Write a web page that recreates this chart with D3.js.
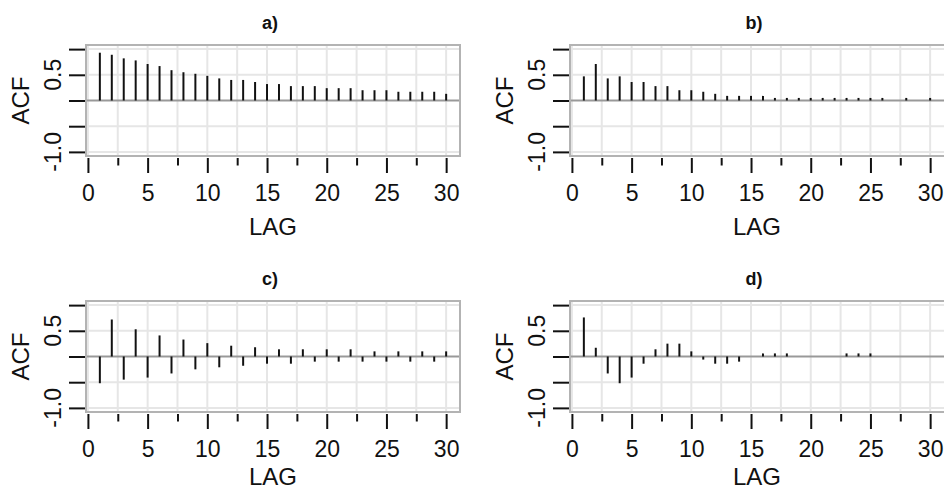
<!DOCTYPE html>
<html>
<head>
<meta charset="utf-8">
<script src="https://cdn.jsdelivr.net/npm/d3@7"></script>
<style>
  body { margin: 0; background: #fff; overflow: hidden; }
  svg { display: block; font-family: "Liberation Sans", Arial, sans-serif; }
</style>
</head>
<body>
<div id="chart"></div>
<script>
// data
var lags = [1, 2, 3, 4, 5, 6, 7, 8, 9, 10, 11, 12, 13, 14, 15,
            16, 17, 18, 19, 20, 21, 22, 23, 24, 25, 26, 27, 28, 29, 30];

var acfA = [0.93, 0.89, 0.82, 0.78, 0.71, 0.67, 0.59, 0.55, 0.52, 0.48,
            0.43, 0.40, 0.40, 0.36, 0.32, 0.32, 0.28, 0.28, 0.28, 0.24,
            0.24, 0.24, 0.20, 0.20, 0.20, 0.17, 0.17, 0.17, 0.17, 0.13];
var acfB = [0.47, 0.71, 0.43, 0.47, 0.36, 0.36, 0.28, 0.28, 0.20, 0.20,
            0.17, 0.13, 0.09, 0.09, 0.09, 0.09, 0.05, 0.05, 0.05, 0.05,
            0.05, 0.05, 0.05, 0.05, 0.05, 0.05, 0.00, 0.05, 0.00, 0.05];
var acfC = [-0.52, 0.72, -0.45, 0.53, -0.41, 0.41, -0.33, 0.33, -0.25, 0.26,
            -0.21, 0.21, -0.18, 0.18, -0.14, 0.14, -0.14, 0.14, -0.10, 0.14,
            -0.10, 0.14, -0.10, 0.10, -0.10, 0.10, -0.10, 0.10, -0.10, 0.10];
var acfD = [0.76, 0.17, -0.33, -0.52, -0.41, -0.14, 0.14, 0.25, 0.25, 0.10,
            -0.06, -0.14, -0.14, -0.10, 0.00, 0.06, 0.06, 0.06, 0.00, 0.00,
            0.00, 0.00, 0.06, 0.06, 0.06, 0.00, 0.00, 0.00, 0.00, 0.00];

var titles = ["a)", "b)", "c)", "d)"];
var xMajor = [0, 5, 10, 15, 20, 25, 30];
var xMinor = [2.5, 7.5, 12.5, 17.5, 22.5, 27.5];
var yTicks = [-1, -0.5, 0, 0.5, 1];
var yLabelled = [0.5, -1];
var yLabelText = ["0.5", "-1.0"];

var W = 944, H = 491;

var svg = d3.select("#chart").append("svg")
    .attr("width", W)
    .attr("height", H);

// plot boxes (panel b/d run off the right edge, like the picture)
var panels = [
  {x0: 86,  x1: 460, y0: 45,  y1: 156, data: acfA, title: titles[0]},
  {x0: 570, x1: 946, y0: 45,  y1: 156, data: acfB, title: titles[1]},
  {x0: 86,  x1: 460, y0: 301, y1: 412, data: acfC, title: titles[2]},
  {x0: 570, x1: 946, y0: 301, y1: 412, data: acfD, title: titles[3]}
];

panels.forEach(function(p) {
  var x = d3.scaleLinear().domain([-0.16, 31.16]).range([p.x0, p.x0 + 374]);
  var y = d3.scaleLinear().domain([-1.08, 1.08]).range([p.y1, p.y0]);
  var g = svg.append("g");

  // grid
  g.append("g").selectAll("line")
    .data(xMajor.concat(xMinor))
    .enter().append("line")
      .attr("x1", function(d) { return x(d); })
      .attr("x2", function(d) { return x(d); })
      .attr("y1", p.y0).attr("y2", p.y1)
      .attr("stroke", "#e6e6e6").attr("stroke-width", 2);
  g.append("g").selectAll("line")
    .data(yTicks.filter(function(d) { return d !== 0; }))
    .enter().append("line")
      .attr("x1", p.x0).attr("x2", p.x1)
      .attr("y1", function(d) { return y(d); })
      .attr("y2", function(d) { return y(d); })
      .attr("stroke", "#e6e6e6").attr("stroke-width", 2);

  // zero line
  g.append("line")
    .attr("x1", p.x0).attr("x2", p.x1)
    .attr("y1", y(0)).attr("y2", y(0))
    .attr("stroke", "#999").attr("stroke-width", 2);

  // box
  g.append("rect")
    .attr("x", p.x0).attr("y", p.y0)
    .attr("width", p.x1 - p.x0).attr("height", p.y1 - p.y0)
    .attr("fill", "none").attr("stroke", "#b3b3b3").attr("stroke-width", 2);

  // acf spikes
  g.append("g").selectAll("line")
    .data(lags.map(function(l, i) { return {lag: l, v: p.data[i]}; }))
    .enter().append("line")
      .attr("x1", function(d) { return x(d.lag); })
      .attr("x2", function(d) { return x(d.lag); })
      .attr("y1", y(0))
      .attr("y2", function(d) { return y(d.v); })
      .attr("stroke", "#111").attr("stroke-width", 2);

  // x axis: major ticks with labels, minor ticks without
  var ax = g.append("g")
      .attr("transform", "translate(0," + (p.y1 + 2) + ")")
      .call(d3.axisBottom(x).tickValues(xMajor).tickSize(15).tickPadding(12).tickFormat(d3.format("d")));
  var axm = g.append("g")
      .attr("transform", "translate(0," + (p.y1 + 2) + ")")
      .call(d3.axisBottom(x).tickValues(xMinor).tickSize(7.5).tickFormat(""));
  [ax, axm].forEach(function(a) {
    a.select(".domain").remove();
    a.selectAll(".tick line").attr("stroke", "#111").attr("stroke-width", 2);
  });
  ax.selectAll(".tick text")
    .attr("fill", "#111")
    .style("font-size", "23px")
    .style("font-family", "'Liberation Sans', Arial, sans-serif");

  // y axis ticks
  var ay = g.append("g")
      .attr("transform", "translate(" + (p.x0 - 1) + ",0)")
      .call(d3.axisLeft(y).tickValues(yTicks).tickSize(16).tickFormat(""));
  ay.select(".domain").remove();
  ay.selectAll(".tick line").attr("stroke", "#111").attr("stroke-width", 2);

  // rotated y tick labels
  g.append("g").selectAll("text")
    .data(yLabelled)
    .enter().append("text")
      .attr("transform", function(d) { return "translate(" + (p.x0 - 25) + "," + y(d) + ") rotate(-90)"; })
      .attr("text-anchor", "middle")
      .attr("fill", "#111")
      .style("font-size", "23px")
      .text(function(d, i) { return yLabelText[i]; });

  // axis titles
  var cx = (p.x0 + p.x0 + 374) / 2;
  g.append("text")
    .attr("transform", "translate(" + (p.x0 - 57) + "," + y(0) + ") rotate(-90)")
    .attr("text-anchor", "middle")
    .attr("fill", "#111")
    .style("font-size", "24px")
    .text("ACF");
  g.append("text")
    .attr("x", cx).attr("y", Math.min(p.y1 + 79, H - 6))
    .attr("text-anchor", "middle")
    .attr("fill", "#111")
    .style("font-size", "24px")
    .text("LAG");

  // panel title
  g.append("text")
    .attr("x", cx - 3).attr("y", p.y0 - 16)
    .attr("text-anchor", "middle")
    .attr("fill", "#111")
    .style("font-size", "18px")
    .style("font-weight", "bold")
    .text(p.title);
});
</script>
</body>
</html>
